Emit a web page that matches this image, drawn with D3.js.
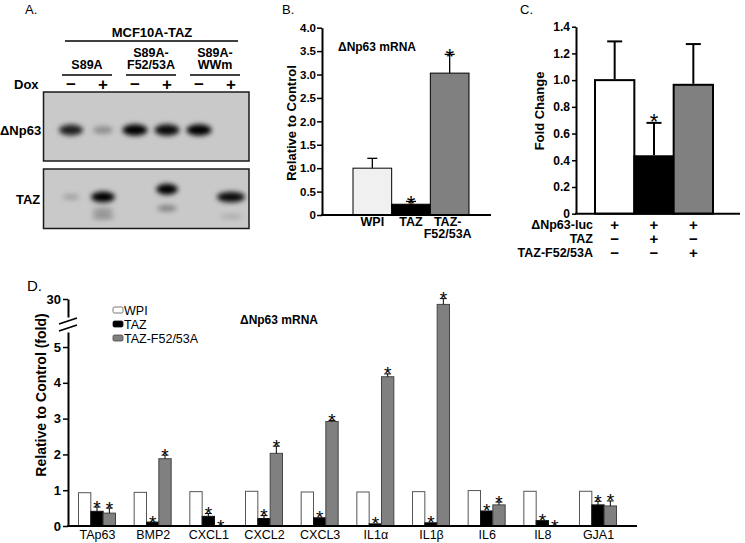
<!DOCTYPE html>
<html>
<head>
<meta charset="utf-8">
<script src="https://cdn.jsdelivr.net/npm/d3@7"></script>
<style>
  body { margin: 0; background: #fff; }
  svg { display: block; font-family: "Liberation Sans", Arial, Helvetica, sans-serif; }
</style>
</head>
<body>
<div id="fig"></div>
<script>
// ---- data ----
// panel A (western blot)
var laneSigns = ["\u2212", "+", "\u2212", "+", "\u2212", "+"]
var constructs = [
  { name: ["S89A"], from: 0, to: 1 },
  { name: ["S89A-", "F52/53A"], from: 2, to: 3 },
  { name: ["S89A-", "WWm"], from: 4, to: 5 }
]
var np63Level = [0.85, 0.3, 1, 0.95, 1, 0]
// TAZ blot: lane, migration (0 top .. 1 bottom), intensity, width
var tazBands = [
  { lane: 0, mob: 0.47, level: 0.22, w: 0.6 },
  { lane: 1, mob: 0.47, level: 1, w: 0.85 },
  { lane: 1, mob: 0.7, level: 0.25, w: 0.8 },
  { lane: 1, mob: 0.8, level: 0.28, w: 0.8 },
  { lane: 3, mob: 0.34, level: 1, w: 0.78 },
  { lane: 3, mob: 0.66, level: 0.35, w: 0.7 },
  { lane: 5, mob: 0.47, level: 0.95, w: 1 },
  { lane: 5, mob: 0.8, level: 0.15, w: 0.8 }
]

// panel B
var bCats = ["WPI", "TAZ", "TAZ-F52/53A"]
var bVals = [1.0, 0.23, 3.03]
var bErr = [0.21, 0.06, 0.4]
var bStar = [false, true, true]
var bColors = ["#f0f0f0", "#000000", "#808080"]
var bTicks = [0, 0.5, 1, 1.5, 2, 2.5, 3, 3.5, 4]

// panel C
var cCats = ["ctrl", "TAZ", "TAZ-F52/53A"]
var cVals = [1.0, 0.43, 0.965]
var cErr = [0.29, 0.25, 0.305]
var cStar = [false, true, false]
var cColors = ["#ffffff", "#000000", "#808080"]
var cTicks = [0, 0.2, 0.4, 0.6, 0.8, 1.0, 1.2, 1.4]
var cRows = ["\u0394Np63-luc", "TAZ", "TAZ-F52/53A"]
var cSigns = [["+", "+", "+"], ["\u2212", "+", "\u2212"], ["\u2212", "\u2212", "+"]]

// panel D
var genes = ["TAp63", "BMP2", "CXCL1", "CXCL2", "CXCL3", "IL1\u03b1", "IL1\u03b2", "IL6", "IL8", "GJA1"]
var dSeries = ["WPI", "TAZ", "TAZ-F52/53A"]
var wpiVals = [0.93, 0.94, 0.96, 0.97, 0.95, 0.95, 0.96, 0.99, 0.97, 0.97]
var tazVals = [0.41, 0.11, 0.27, 0.21, 0.23, 0.06, 0.09, 0.42, 0.15, 0.59]
var tazErr = [0.12, 0, 0.08, 0.08, 0, 0, 0, 0, 0, 0.1]
var mutVals = [0.36, 1.88, 0, 2.03, 2.92, 4.17, 27, 0.59, 0, 0.56]
var mutErr = [0.14, 0.1, 0, 0.2, 0.03, 0.08, 3.2, 0.08, 0, 0.14]
var tazStar = [true, true, true, true, true, true, true, true, true, true]
var mutStar = [true, true, true, true, true, true, true, true, true, true]
var dTicksLow = [0, 1, 2, 3, 4, 5]
var dTicksHigh = [30]

// ---- drawing ----
var W = 745, H = 543
var svg = d3.select("#fig").append("svg").attr("width", W).attr("height", H)
svg.append("rect").attr("width", W).attr("height", H).attr("fill", "#fff")

var defs = svg.append("defs")
defs.append("filter").attr("id", "blur").attr("x", "-50%").attr("y", "-100%").attr("width", "200%").attr("height", "300%")
  .append("feGaussianBlur").attr("stdDeviation", 2.4)

function label(g, x, y, txt, size, bold, anchor) {
  return g.append("text").attr("x", x).attr("y", y).text(txt)
    .attr("font-size", size).attr("font-weight", bold ? "bold" : "normal")
    .attr("text-anchor", anchor || "start").attr("fill", "#000")
}
// asterisk centred on (x, cy)
function star(g, x, cy, size) {
  return label(g, x, cy + 0.58 * size, "*", size, false, "middle")
}
function styleAxis(ax, size) {
  ax.select(".domain").attr("stroke-width", 2)
  ax.selectAll(".tick line").attr("stroke-width", 1.5)
  ax.selectAll("text").attr("font-size", size).attr("font-weight", "bold").attr("font-family", "Liberation Sans, Arial")
}
var fmt1 = function (d) { return d === 0 ? "0" : d3.format(".1f")(d) }

// ===== Panel A =====
var gA = svg.append("g")
label(gA, 25, 13.5, "A.", 13, false)
var xLane = d3.scalePoint().domain(d3.range(6)).range([71, 231])
label(gA, 152, 37, "MCF10A-TAZ", 13, true, "middle")
gA.append("line").attr("x1", 65).attr("x2", 238).attr("y1", 41).attr("y2", 41).attr("stroke", "#000").attr("stroke-width", 1.5)
constructs.forEach(function (c) {
  var cx = (xLane(c.from) + xLane(c.to)) / 2
  c.name.forEach(function (n, i) {
    label(gA, cx, 69 - (c.name.length - 1 - i) * 12, n, 12.5, true, "middle")
  })
  gA.append("line").attr("x1", xLane(c.from) - 9).attr("x2", xLane(c.to) + 9)
    .attr("y1", 75).attr("y2", 75).attr("stroke", "#000").attr("stroke-width", 1.5)
})
label(gA, 14, 89, "Dox", 13, true)
gA.selectAll(".dox").data(laneSigns).enter().append("text")
  .attr("x", function (d, i) { return xLane(i) }).attr("y", 90)
  .attr("text-anchor", "middle").attr("font-size", 17).attr("font-weight", "bold").text(function (d) { return d })

// blot boxes
var blot1 = { y0: 92, y1: 161 }, blot2 = { y0: 169, y1: 228.5 }
;[blot1, blot2].forEach(function (b) {
  gA.append("rect").attr("x", 43.5).attr("y", b.y0).attr("width", 205.5).attr("height", b.y1 - b.y0)
    .attr("fill", "#c9c9c9").attr("stroke", "#1a1a1a").attr("stroke-width", 1.5)
})
label(gA, 0, 135, "\u0394Np63", 13, true)
label(gA, 16, 203.5, "TAZ", 13, true)

var gB1 = gA.append("g").attr("filter", "url(#blur)")
gB1.selectAll("ellipse").data(np63Level).enter().append("ellipse")
  .attr("cx", function (d, i) { return xLane(i) }).attr("cy", 130)
  .attr("rx", function (d) { return 9 + 3.5 * d }).attr("ry", function (d) { return 3 + 2.8 * d })
  .attr("fill", "#050505").attr("fill-opacity", function (d) { return d })
var yMob = d3.scaleLinear().domain([0, 1]).range([blot2.y0, blot2.y1])
var gB2 = gA.append("g").attr("filter", "url(#blur)")
gB2.selectAll("ellipse").data(tazBands).enter().append("ellipse")
  .attr("cx", function (d) { return xLane(d.lane) }).attr("cy", function (d) { return yMob(d.mob) })
  .attr("rx", function (d) { return 14 * d.w }).attr("ry", function (d) { return 2 + 3.4 * d.level })
  .attr("fill", "#050505").attr("fill-opacity", function (d) { return d.level })

// ===== Panel B =====
var gBp = svg.append("g")
label(gBp, 282, 13.5, "B.", 13, false)
var yB = d3.scaleLinear().domain([0, 4]).range([215, 27.7])
var xB = d3.scaleBand().domain(bCats).range([353, 469])
gBp.selectAll(".bar").data(bVals).enter().append("rect")
  .attr("x", function (d, i) { return xB(bCats[i]) }).attr("width", xB.bandwidth())
  .attr("y", function (d) { return yB(d) }).attr("height", function (d) { return yB(0) - yB(d) })
  .attr("fill", function (d, i) { return bColors[i] }).attr("stroke", "#000").attr("stroke-width", 1)
bVals.forEach(function (v, i) {
  var cx = xB(bCats[i]) + xB.bandwidth() / 2
  var yt = yB(v + bErr[i])
  gBp.append("line").attr("x1", cx).attr("x2", cx).attr("y1", yB(v)).attr("y2", yt).attr("stroke", "#000").attr("stroke-width", 1.3)
  gBp.append("line").attr("x1", cx - 5).attr("x2", cx + 5).attr("y1", yt).attr("y2", yt).attr("stroke", "#000").attr("stroke-width", 1.3)
  if (bStar[i]) star(gBp, cx, yt - 3, 22)
})
var axB = gBp.append("g").attr("transform", "translate(322,0)")
  .call(d3.axisLeft(yB).tickValues(bTicks).tickSize(5).tickSizeOuter(0).tickPadding(1).tickFormat(fmt1))
styleAxis(axB, 11.5)
gBp.append("line").attr("x1", 321).attr("x2", 491).attr("y1", 215).attr("y2", 215).attr("stroke", "#000").attr("stroke-width", 2)
label(gBp, 0, 0, "Relative to Control", 13, true, "middle").attr("transform", "translate(296,123) rotate(-90)")
label(gBp, 338, 51, "\u0394Np63 mRNA", 12, true)
label(gBp, xB("WPI") + xB.bandwidth() / 2, 226, "WPI", 12.5, true, "middle")
label(gBp, xB("TAZ") + xB.bandwidth() / 2, 226, "TAZ", 12.5, true, "middle")
label(gBp, xB("TAZ-F52/53A") + xB.bandwidth() / 2 - 2, 226, "TAZ-", 12.5, true, "middle")
label(gBp, xB("TAZ-F52/53A") + xB.bandwidth() / 2 - 2, 238, "F52/53A", 12.5, true, "middle")

// ===== Panel C =====
var gC = svg.append("g")
label(gC, 520, 13.5, "C.", 13, false)
var yC = d3.scaleLinear().domain([0, 1.4]).range([213.7, 26.7])
var xC = d3.scaleBand().domain(cCats).range([595, 713])
gC.selectAll(".bar").data(cVals).enter().append("rect")
  .attr("x", function (d, i) { return xC(cCats[i]) }).attr("width", xC.bandwidth())
  .attr("y", function (d) { return yC(d) }).attr("height", function (d) { return yC(0) - yC(d) })
  .attr("fill", function (d, i) { return cColors[i] }).attr("stroke", "#000").attr("stroke-width", 2)
cVals.forEach(function (v, i) {
  var cx = xC(cCats[i]) + xC.bandwidth() / 2
  var yt = yC(v + cErr[i])
  gC.append("line").attr("x1", cx).attr("x2", cx).attr("y1", yC(v) - 1).attr("y2", yt).attr("stroke", "#000").attr("stroke-width", 2)
  gC.append("line").attr("x1", cx - 7.5).attr("x2", cx + 7.5).attr("y1", yt).attr("y2", yt).attr("stroke", "#000").attr("stroke-width", 2)
  if (cStar[i]) star(gC, cx, yt - 7, 22)
})
var axC = gC.append("g").attr("transform", "translate(576,0)")
  .call(d3.axisLeft(yC).tickValues(cTicks).tickSize(4).tickSizeOuter(0).tickPadding(2).tickFormat(fmt1))
styleAxis(axC, 12)
gC.append("line").attr("x1", 575).attr("x2", 740).attr("y1", 213.7).attr("y2", 213.7).attr("stroke", "#000").attr("stroke-width", 2)
label(gC, 0, 0, "Fold Change", 13, true, "middle").attr("transform", "translate(544,111) rotate(-90)")
var yRow = d3.scalePoint().domain(cRows).range([228.5, 257])
cRows.forEach(function (r, ri) {
  label(gC, 593, yRow(r), r, 12.5, true, "end")
  cSigns[ri].forEach(function (s, ci) {
    label(gC, xC(cCats[ci]) + xC.bandwidth() / 2, yRow(r) + 1, s, 15, true, "middle")
  })
})

// ===== Panel D =====
var gD = svg.append("g")
label(gD, 27, 291, "D.", 15, false)
var yLow = d3.scaleLinear().domain([0, 5.42]).range([526, 332])
var yHigh = d3.scaleLinear().domain([20, 30]).range([317, 299])
function yD(v) { return v <= 5.42 ? yLow(v) : yHigh(v) }
var xD = d3.scalePoint().domain(genes).range([97, 598])
var xS = d3.scaleBand().domain(dSeries).range([-18.5, 18.5])
var dFill = { "WPI": "#ffffff", "TAZ": "#000000", "TAZ-F52/53A": "#808080" }
var dStroke = { "WPI": "#555555", "TAZ": "#111111", "TAZ-F52/53A": "#444444" }
var dData = [wpiVals, tazVals, mutVals]
var dErrs = [null, tazErr, mutErr]
var dStars = [null, tazStar, mutStar]
dSeries.forEach(function (s, si) {
  gD.selectAll(".bar" + si).data(dData[si]).enter().append("rect")
    .attr("x", function (d, i) { return xD(genes[i]) + xS(s) }).attr("width", xS.bandwidth())
    .attr("y", function (d) { return yD(d) }).attr("height", function (d) { return yD(0) - yD(d) })
    .attr("fill", dFill[s]).attr("stroke", dStroke[s]).attr("stroke-width", 1)
  if (!dErrs[si]) return
  dData[si].forEach(function (v, i) {
    var cx = xD(genes[i]) + xS(s) + xS.bandwidth() / 2
    var yt = yD(v + dErrs[si][i])
    if (dErrs[si][i] > 0) {
      gD.append("line").attr("x1", cx).attr("x2", cx).attr("y1", yD(v)).attr("y2", yt).attr("stroke", "#000").attr("stroke-width", 1)
      gD.append("line").attr("x1", cx - 3.5).attr("x2", cx + 3.5).attr("y1", yt).attr("y2", yt).attr("stroke", "#000").attr("stroke-width", 1)
    }
    if (dStars[si][i]) star(gD, cx, yt - 4.5, 19)
  })
})
var axLow = gD.append("g").attr("transform", "translate(68,0)")
  .call(d3.axisLeft(yLow).tickValues(dTicksLow).tickSize(5).tickSizeOuter(0).tickPadding(2).tickFormat(d3.format("d")))
var axHigh = gD.append("g").attr("transform", "translate(68,0)")
  .call(d3.axisLeft(yHigh).tickValues(dTicksHigh).tickSize(5).tickSizeOuter(0).tickPadding(2).tickFormat(d3.format("d")))
styleAxis(axLow, 13)
styleAxis(axHigh, 13)
// axis break marks
;[yHigh(20) + 4, yLow(5.42) - 4].forEach(function (yy) {
  gD.append("line").attr("x1", 59).attr("x2", 77).attr("y1", yy + 3).attr("y2", yy - 3).attr("stroke", "#000").attr("stroke-width", 1.8)
})
var axX = gD.append("g").attr("transform", "translate(0,526)")
  .call(d3.axisBottom(xD).tickSize(0).tickPadding(4.5))
axX.select(".domain").attr("d", "M67,0H637").attr("stroke-width", 2.2)
axX.selectAll("text").attr("font-size", 12.5).attr("font-family", "Liberation Sans, Arial")
label(gD, 0, 0, "Relative to Control (fold)", 14, true, "middle").attr("transform", "translate(46,395) rotate(-90)")
label(gD, 240, 324, "\u0394Np63 mRNA", 12, true)
// legend
var yLeg = d3.scalePoint().domain(dSeries).range([310, 338])
dSeries.forEach(function (s) {
  gD.append("rect").attr("x", 113).attr("y", yLeg(s) - 3).attr("width", 10).attr("height", 6).attr("rx", 1.5)
    .attr("fill", dFill[s]).attr("stroke", dStroke[s]).attr("stroke-width", 0.8)
  label(gD, 124, yLeg(s) + 4.5, s, 12.5, false)
})
</script>
</body>
</html>
